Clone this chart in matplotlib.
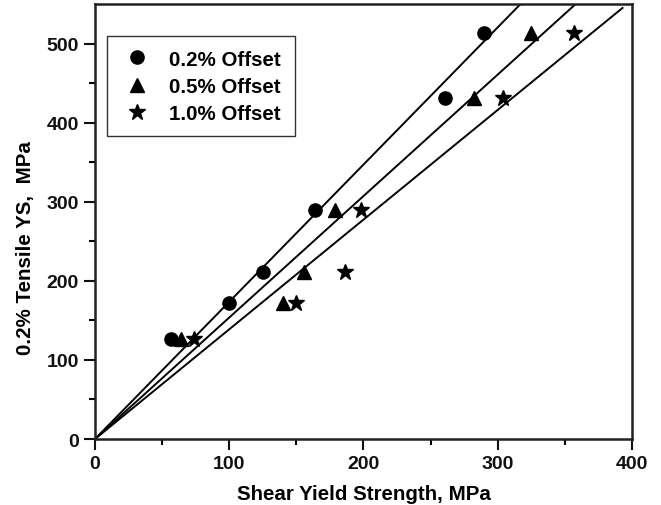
import matplotlib
matplotlib.use("Agg")
import matplotlib.pyplot as plt
import numpy as np

plt.rcParams["font.family"] = ["Liberation Sans", "DejaVu Sans"]
plt.rcParams["font.weight"] = "bold"

# tensile YS values (same for all offsets)
tensile = [127, 172, 211, 290, 431, 514]
shear_02 = [57, 100, 125, 164, 261, 290]
shear_05 = [64, 140, 156, 179, 282, 325]
shear_10 = [74, 150, 186, 198, 304, 357]

# fitted lines through origin: slope, x end
fit_slopes = [1.735, 1.536, 1.387]
fit_xend = [317, 358, 393]

fig = plt.figure(figsize=(6.61, 5.06), dpi=100)
ax = fig.add_axes([0.1437, 0.1304, 0.8123, 0.8596])

for s, xe in zip(fit_slopes, fit_xend):
    xs = np.array([0, xe])
    ax.plot(xs, s * xs, "-", color="black", lw=1.4)

ax.plot(shear_02, tensile, "o", color="black", ms=9.5, label="0.2% Offset")
ax.plot(shear_05, tensile, "^", color="black", ms=10.5, label="0.5% Offset")
ax.plot(shear_10, tensile, "*", color="black", ms=12, label="1.0% Offset")

ax.set_xlim(0, 400)
ax.set_ylim(0, 550)
ax.set_xticks([0, 100, 200, 300, 400])
ax.set_yticks([0, 100, 200, 300, 400, 500])
ax.set_xticks([50, 150, 250, 350], minor=True)
ax.set_yticks([50, 150, 250, 350, 450], minor=True)
ax.tick_params(which="major", direction="out", length=8, width=1.5, labelsize=14, colors="#111111")
ax.tick_params(which="minor", direction="out", length=4, width=1.5)
for sp in ax.spines.values():
    sp.set_linewidth(1.8)
    sp.set_color("#222222")

ax.set_xlabel("Shear Yield Strength, MPa", fontsize=14.8, fontweight="bold", labelpad=9)
ax.set_ylabel("0.2% Tensile YS,  MPa", fontsize=14.8, fontweight="bold")
ax.yaxis.set_label_coords(-0.112, 0.441)

leg = ax.legend(loc="upper left", bbox_to_anchor=(0.022, 0.926), borderaxespad=0,
                fontsize=14.8, frameon=True, fancybox=False, edgecolor="black",
                borderpad=0.65, handlelength=1.6, handletextpad=0.8, labelspacing=0.4)
leg.get_frame().set_linewidth(1.0)

fig.savefig("out.png", dpi=100)
